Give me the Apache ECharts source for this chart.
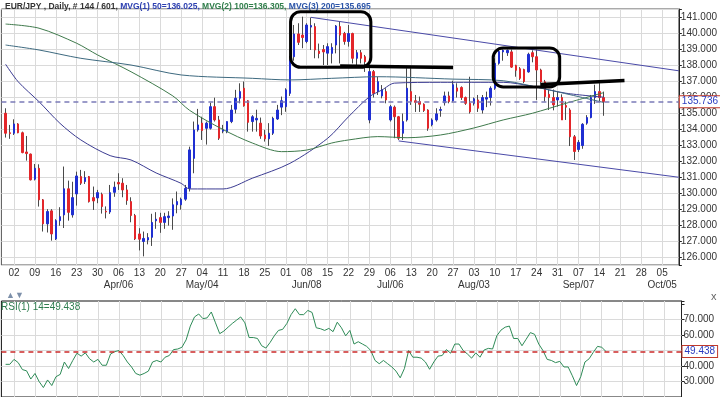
<!DOCTYPE html>
<html>
<head>
<meta charset="utf-8">
<script src="https://cdn.jsdelivr.net/npm/echarts@6/dist/echarts.min.js"></script>
<style>
html, body { margin: 0; padding: 0; background: #fff; }
#chart { width: 720px; height: 397px; }
</style>
</head>
<body>
<div id="chart"></div>
<script>
const FONT = '"Liberation Sans Narrow", "Liberation Sans", Arial, sans-serif';

// daily bars 2009-02-26 .. 2009-09-15, [open, close, low, high]
const ohlc = [
  [135.02,133.77,133.50,135.33],[133.80,133.75,133.42,134.29],[133.77,134.35,133.66,134.64],[134.35,133.80,133.77,134.40],
  [133.80,132.56,132.52,133.87],[132.60,132.50,132.06,133.60],[132.47,130.86,130.82,132.50],[130.90,131.58,130.82,131.85],
  [131.58,129.61,129.19,131.83],[129.61,128.11,127.63,129.66],[128.11,128.88,127.57,129.03],[128.92,127.48,127.06,129.03],
  [127.17,128.31,127.10,128.40],[128.31,128.56,127.99,129.15],[128.67,130.30,127.85,131.69],[130.30,128.83,128.31,130.81],
  [128.67,129.75,128.50,130.74],[129.98,131.10,129.25,131.37],[131.06,130.65,130.54,131.48],[130.75,131.00,130.60,131.40],
  [131.06,129.50,129.44,131.10],[129.75,129.54,128.98,130.44],[129.73,130.06,129.40,130.23],[129.95,129.19,128.75,130.06],
  [128.90,128.85,128.45,129.20],[128.85,130.06,128.73,130.54],[130.08,130.40,129.80,130.75],[130.70,130.60,130.23,131.27],
  [130.65,130.23,129.77,130.96],[130.23,129.57,129.30,130.54],[129.50,128.63,128.21,129.77],[128.63,127.17,127.10,128.73],
  [127.48,127.15,126.45,127.84],[127.01,127.20,126.08,127.63],[127.10,127.25,126.83,127.53],[127.27,128.20,126.73,128.74],
  [128.30,128.40,127.80,128.84],[128.50,128.20,127.55,128.80],[128.20,128.56,127.80,128.80],[128.50,128.60,128.00,128.90],
  [128.60,129.30,127.74,129.70],[129.30,129.50,128.77,130.13],[129.30,129.65,129.00,129.75],[129.65,130.33,129.55,130.54],
  [130.33,132.73,130.13,132.93],[132.20,133.98,131.27,134.50],[133.98,134.29,133.87,135.29],[134.40,133.94,133.35,134.80],
  [134.08,134.40,133.06,134.50],[134.08,135.43,134.00,135.68],[135.43,134.60,134.50,135.99],[134.60,133.46,133.35,134.85],
  [133.90,134.00,133.77,134.29],[133.85,134.50,133.77,134.50],[134.50,135.22,134.40,135.54],[135.27,135.96,135.01,136.48],
  [135.96,136.37,135.64,136.89],[136.58,135.48,135.43,137.00],[135.80,134.45,133.87,135.84],[134.50,134.80,133.87,134.90],
  [134.60,134.70,133.87,135.24],[134.40,133.60,133.42,134.75],[133.66,133.42,133.25,133.98],[133.42,133.77,132.98,134.40],
  [133.77,134.70,133.66,134.80],[134.66,135.22,134.60,135.54],[135.40,135.80,134.90,136.06],[135.43,136.48,135.11,136.58],
  [136.26,138.35,136.10,138.60],[138.55,139.97,138.30,140.53],[139.97,139.45,139.28,140.64],[139.90,139.75,139.08,141.05],
  [139.50,140.53,139.39,140.64],[140.40,140.50,138.97,141.00],[140.43,138.97,138.45,140.64],[138.90,138.75,138.45,139.37],
  [139.00,138.85,138.03,139.28],[138.77,139.18,138.03,139.39],[138.76,139.13,138.13,139.39],[139.28,140.47,138.76,140.53],
  [140.43,139.90,138.13,140.74],[140.00,139.50,139.30,140.10],[139.50,140.00,139.18,140.53],[140.00,138.45,138.13,140.05],
  [138.45,138.80,138.03,138.97],[138.80,138.45,138.13,138.97],[138.55,138.24,137.60,138.66],[134.60,137.62,134.39,137.93],
  [137.62,136.26,136.00,137.72],[136.37,136.99,136.16,137.30],[136.10,136.48,135.95,136.78],[136.37,135.85,135.64,136.58],
  [134.60,135.43,134.50,135.54],[135.40,134.80,133.46,135.50],[134.80,133.46,133.35,134.85],[133.77,134.50,133.35,135.00],
  [134.60,136.58,134.50,137.83],[136.37,135.75,135.54,137.83],[135.80,135.70,135.10,136.16],[135.75,135.58,135.10,136.06],
  [135.58,135.19,135.10,135.64],[135.22,134.08,133.92,135.27],[134.30,134.60,134.20,134.70],[134.60,134.98,134.50,135.33],
  [135.20,135.25,134.80,135.43],[135.68,136.10,135.50,136.37],[136.10,135.75,135.64,136.37],[135.80,136.80,135.70,137.05],
  [136.60,136.40,136.00,136.89],[136.63,136.00,135.85,136.70],[136.00,135.64,135.54,136.06],[135.64,135.11,135.00,137.30],
  [135.64,135.92,135.50,136.00],[135.85,135.33,135.10,136.16],[135.22,136.00,135.00,136.16],[135.90,136.00,135.40,136.37],
  [136.00,136.58,135.50,136.70],[136.58,138.14,136.48,138.45],[138.14,138.87,138.05,139.10],[138.85,138.95,138.30,139.00],
  [138.80,138.95,138.60,139.00],[138.85,137.90,137.85,139.00],[138.00,137.70,137.30,138.05],[137.80,137.20,137.10,137.90],
  [137.75,137.00,136.90,137.80],[137.60,138.70,137.55,138.80],[138.80,138.55,138.20,138.95],[138.55,137.72,135.85,139.00],
  [137.72,136.98,136.60,137.80],[136.98,136.06,135.75,137.10],[136.20,136.00,135.22,136.48],[136.00,135.54,135.20,136.50],
  [135.85,136.00,135.43,136.37],[136.00,134.60,134.60,136.20],[135.50,135.40,134.60,135.75],[135.22,133.55,132.97,135.33],
  [133.55,132.63,132.10,133.66],[132.75,133.20,132.60,133.35],[133.00,134.33,132.80,134.40],[134.40,134.75,134.30,134.90],
  [134.75,136.00,134.70,136.16],[136.00,136.37,135.60,136.80],[136.37,136.00,135.70,136.90],[136.00,135.736,134.86,136.37]
];

// RSI(14), one value per bar
const rsi = [
  41.1,41.1,44.3,42.2,37.7,36.9,31.6,35.2,29.9,26.1,
  31.0,27.4,33.1,34.6,42.6,38.4,43.6,48.3,46.4,48.5,
  44.7,42.6,44.3,40.5,40.5,47.8,49.3,50.0,46.8,42.6,
  39.4,35.2,34.1,35.2,36.7,42.6,43.6,42.6,45.7,46.8,
  50.6,51.0,52.1,56.9,65.8,71.7,73.6,70.6,71.1,74.9,
  67.9,60.9,62.6,65.1,67.5,69.6,71.7,67.9,58.4,58.4,
  57.8,53.1,51.6,55.2,59.5,63.0,63.7,67.5,73.2,77.0,
  73.2,73.2,75.9,74.6,64.7,64.1,63.0,64.3,62.2,
  68.3,64.7,59.5,63.0,54.2,55.7,54.2,52.7,50.0,43.6,
  41.5,43.6,41.5,39.4,36.7,32.4,38.4,50.0,45.7,45.7,
  45.1,42.6,37.9,42.6,46.4,46.8,50.6,48.3,54.2,54.2,
  50.0,47.8,45.1,48.5,45.7,50.4,51.4,51.0,59.5,63.2,
  65.1,65.8,57.8,57.8,53.1,57.3,61.6,60.5,54.2,50.0,
  44.3,43.6,42.2,43.0,39.4,39.4,33.7,27.4,33.1,42.6,
  44.7,48.9,52.7,52.1,49.438
];

// moving averages: [bar index, value]
const ma50 = [[0,138.08],[3,136.99],[8,135.74],[13,134.39],[18,133.35],[25,132.37],[30,132.10],[36,131.29],
  [42,130.64],[44,130.29],[52,130.29],[59,130.96],[68,131.89],[77,133.45],[82,134.80],[87,136.05],[90,136.47],
  [93,136.90],[104,136.95],[119,136.95],[126,136.70],[134,136.27],[143,136.025]];
const ma100 = [[0,140.59],[8,140.33],[17,139.39],[22,138.66],[30,137.61],[40,136.10],[44,135.20],[52,134.00],
  [59,133.16],[66,132.62],[72,132.72],[78,133.16],[82,133.35],[89,133.56],[96,133.49],[104,133.66],[112,134.10],
  [119,134.60],[126,135.02],[134,135.64],[143,136.305]];
const ma200 = [[0,139.28],[8,138.97],[18,138.45],[30,138.03],[42,137.41],[59,137.20],[68,137.10],[78,137.20],
  [89,137.30],[107,137.15],[119,137.05],[130,136.47],[143,135.695]];

const monthLabels = { '2009-04-06': 'Apr/06', '2009-05-04': 'May/04', '2009-06-08': 'Jun/08',
  '2009-07-06': 'Jul/06', '2009-08-03': 'Aug/03', '2009-09-07': 'Sep/07', '2009-10-05': 'Oct/05' };

const lastPrice = 135.736;
const lastRsi = 49.438;
const rsiLevels = [30, 40, 50, 60, 70];

// drawn annotations, [category index, price]
const channelLines = [[[74, 141.01], [162, 137.67]], [[95, 133.29], [162, 131.02]]];
const markerLines = [[[81, 137.97], [108, 137.88]], [[129, 136.82], [149, 137.07]]];
const boxes = [[[69.15, 141.36], [88.35, 137.89]], [[117.6, 139.10], [133.5, 136.66]]];

// weekday categories 2009-02-25 .. 2009-10-09
const cats = [];
for (let d = Date.UTC(2009, 1, 25); cats.length < 163; d += 86400000) {
  const wd = new Date(d).getUTCDay();
  if (wd !== 0 && wd !== 6) cats.push(new Date(d).toISOString().slice(0, 10));
}
const FIRST = 1;
const isMonday = (i, v) => new Date(cats[i] + 'T00:00:00Z').getUTCDay() === 1;

const pad = (arr) => cats.map((c, k) => (k >= FIRST && k < FIRST + arr.length) ? arr[k - FIRST] : '-');
const wickData = pad(ohlc);
const bodyData = pad(ohlc.map(([o, c]) => [o, c, Math.min(o, c), Math.max(o, c)]));
const maSeries = (pts) => pts.map(([i, v]) => [cats[i + FIRST], v]);

const UP = '#1f2fd2', DOWN = '#e3262a', WICK = '#4a4a4a', GRID = '#dadada';

const chart = echarts.init(document.getElementById('chart'));
chart.setOption({
  animation: false,
  backgroundColor: '#fff',
  title: {
    left: 0, top: -3,
    text: '{a|EUR/JPY , Daily, # 144 / 601, }{b|MVG(1) 50=136.025, }{c|MVG(2) 100=136.305, }{d|MVG(3) 200=135.695}',
    textStyle: {
      fontFamily: FONT, fontSize: 8.5,
      rich: {
        a: { color: '#333', fontFamily: FONT, fontSize: 8.5 },
        b: { color: '#2c3fb0', fontFamily: FONT, fontSize: 8.5 },
        c: { color: '#2f7d4a', fontFamily: FONT, fontSize: 8.5 },
        d: { color: '#2c55a8', fontFamily: FONT, fontSize: 8.5 }
      }
    }
  },
  grid: [
    { left: 1.4, right: 38.5, top: 9, height: 256, show: true, borderColor: '#555', borderWidth: 1 },
    { left: 1.4, right: 38.5, top: 301, height: 98.1, show: true, borderColor: '#111', borderWidth: 1 }
  ],
  xAxis: [
    {
      type: 'category', data: cats, gridIndex: 0, boundaryGap: false,
      axisLine: { show: false }, axisTick: { show: false },
      axisLabel: {
        interval: isMonday, margin: 2, fontSize: 10, lineHeight: 12, color: '#333', fontFamily: FONT,
        formatter: (v) => v.slice(8) + '\n' + (monthLabels[v] || '')
      },
      splitLine: { show: true, interval: isMonday, lineStyle: { color: GRID } }
    },
    {
      type: 'category', data: cats, gridIndex: 1, boundaryGap: false,
      axisLine: { show: false }, axisTick: { show: false }, axisLabel: { show: false },
      splitLine: { show: true, interval: isMonday, lineStyle: { color: GRID } }
    }
  ],
  yAxis: [
    {
      type: 'value', gridIndex: 0, position: 'right', min: 125.54, max: 141.53,
      splitNumber: 16, minInterval: 1, maxInterval: 1,
      axisLine: { show: true, lineStyle: { color: '#222' } },
      axisTick: { show: true, length: 3, lineStyle: { color: '#222' } },
      axisLabel: {
        margin: 2, fontSize: 10, color: '#333', fontFamily: FONT,
        formatter: (v) => Math.abs(v - Math.round(v)) < 1e-6 ? v.toFixed(3) : ''
      },
      splitLine: { show: true, lineStyle: { color: GRID } }
    },
    {
      type: 'value', gridIndex: 1, position: 'right', min: 20, max: 82, interval: 10,
      axisLine: { show: true, lineStyle: { color: '#222' } },
      axisTick: { show: true, length: 3, lineStyle: { color: '#222' } },
      axisLabel: {
        margin: 2, fontSize: 10, color: '#333', fontFamily: FONT,
        formatter: (v) => [30, 40, 60, 70].includes(v) ? v.toFixed(3) : ''
      },
      splitLine: { show: false }
    }
  ],
  series: [
    {
      type: 'candlestick', name: 'wick', xAxisIndex: 0, yAxisIndex: 0, data: wickData, barWidth: 1,
      itemStyle: { color: WICK, color0: WICK, borderColor: WICK, borderColor0: WICK, borderWidth: 1 }
    },
    {
      type: 'candlestick', name: 'EUR/JPY', xAxisIndex: 0, yAxisIndex: 0, data: bodyData, barWidth: 2,
      itemStyle: { color: UP, color0: DOWN, borderColor: UP, borderColor0: DOWN, borderWidth: 1 },
      markLine: {
        silent: true, symbol: ['none', 'none'], animation: false,
        data: [
          {
            yAxis: lastPrice,
            lineStyle: { color: '#7b7bb8', type: [5, 4], width: 1.5 },
            label: {
              show: true, position: 'end', distance: 1, formatter: lastPrice.toFixed(3),
              color: '#2a3cc0', fontSize: 10, fontFamily: FONT, backgroundColor: '#fff',
              borderColor: '#c0392b', borderWidth: 1, padding: [1, 2, 0, 2]
            }
          },
          ...channelLines.map(([a, b]) => [
            { coord: [cats[a[0]], a[1]], lineStyle: { color: '#4a4aa8', type: 'solid', width: 1 }, label: { show: false } },
            { coord: [cats[b[0]], b[1]] }
          ]),
          ...markerLines.map(([a, b]) => [
            { coord: [cats[a[0]], a[1]], lineStyle: { color: '#000', type: 'solid', width: 3.5 }, label: { show: false } },
            { coord: [cats[b[0]], b[1]] }
          ])
        ]
      }
    },
    { type: 'line', name: 'MVG(1) 50', data: maSeries(ma50), smooth: 0.3, symbol: 'none', lineStyle: { color: '#3c3c92', width: 1 } },
    { type: 'line', name: 'MVG(2) 100', data: maSeries(ma100), smooth: 0.3, symbol: 'none', lineStyle: { color: '#3f7a4c', width: 1 } },
    { type: 'line', name: 'MVG(3) 200', data: maSeries(ma200), smooth: 0.3, symbol: 'none', lineStyle: { color: '#3e6a80', width: 1 } },
    {
      type: 'line', name: 'levels', xAxisIndex: 1, yAxisIndex: 1, data: [], z: 1,
      markLine: {
        silent: true, symbol: ['none', 'none'], z: 1, label: { show: false },
        lineStyle: { color: GRID, type: 'solid', width: 1 },
        data: rsiLevels.map((v) => ({ yAxis: v }))
      }
    },
    {
      type: 'line', name: 'RSI(1) 14', xAxisIndex: 1, yAxisIndex: 1, data: pad(rsi), symbol: 'none', z: 3,
      lineStyle: { color: '#2e8b57', width: 1 },
      markLine: {
        silent: true, symbol: ['none', 'none'],
        data: [{
          yAxis: lastRsi,
          lineStyle: { color: '#cc2a2a', type: [5, 4], width: 1.5 },
          label: {
            show: true, position: 'end', distance: 1, formatter: lastRsi.toFixed(3),
            color: '#2a3cc0', fontSize: 10, fontFamily: FONT, backgroundColor: '#fff',
            borderColor: '#c0392b', borderWidth: 1, padding: [1, 2, 0, 2]
          }
        }]
      }
    }
  ]
});

function toPx(k, p) {
  const k0 = Math.floor(k);
  const a = chart.convertToPixel({ gridIndex: 0 }, [cats[k0], p]);
  const b = chart.convertToPixel({ gridIndex: 0 }, [cats[k0 + 1], p]);
  return [a[0] + (k - k0) * (b[0] - a[0]), a[1]];
}

const boxEls = boxes.map(([tl, br]) => {
  const p1 = toPx(tl[0], tl[1]);
  const p2 = toPx(br[0], br[1]);
  return {
    type: 'rect', z: 20,
    shape: { x: p1[0], y: p1[1], width: p2[0] - p1[0], height: p2[1] - p1[1], r: 10 },
    style: { fill: 'none', stroke: '#000', lineWidth: 3 }
  };
});

chart.setOption({
  graphic: [
    ...boxEls,
    { type: 'text', left: 6, top: 291, z: 20, style: { text: '▲▼', fill: '#7d90aa', font: '9px ' + FONT } },
    { type: 'text', left: 711, top: 291, z: 20, style: { text: 'x', fill: '#666', font: '11px ' + FONT } },
    { type: 'text', left: 1, top: 302, z: 20, style: { text: 'RSI(1) 14=49.438', fill: '#2e7d4f', font: '10px ' + FONT } }
  ]
});
</script>
</body>
</html>
